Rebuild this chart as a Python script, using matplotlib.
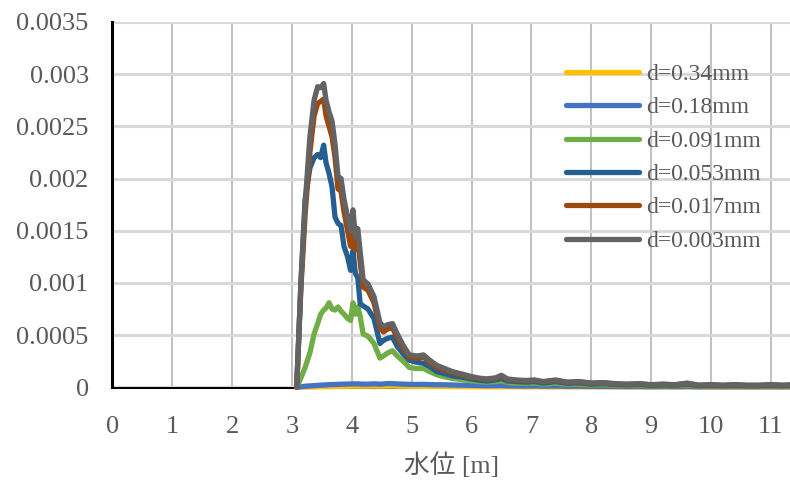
import numpy as np
import matplotlib
matplotlib.use("Agg")
import matplotlib.pyplot as plt

# water level [m]
x = [3.08, 3.15, 3.22, 3.3, 3.37, 3.43, 3.48, 3.53, 3.57, 3.62,
     3.67, 3.72, 3.77, 3.82, 3.87, 3.93, 3.98, 4.02, 4.06, 4.1,
     4.14, 4.19, 4.27, 4.37, 4.47, 4.53, 4.6, 4.68, 4.76, 4.86,
     4.96, 5.08, 5.2, 5.3, 5.42, 5.55, 5.68, 5.82, 5.95, 6.1,
     6.25, 6.4, 6.5, 6.6, 6.75, 6.9, 7.05, 7.2, 7.4, 7.6,
     7.8, 8.0, 8.2, 8.4, 8.6, 8.8, 9.0, 9.2, 9.4, 9.6,
     9.8, 10.0, 10.2, 10.4, 10.6, 10.8, 11.0, 11.2, 11.4]

# values in units of 1e-4
d034 = [0, 0.01, 0.02, 0.03, 0.04, 0.05, 0.05, 0.06, 0.06, 0.07,
        0.07, 0.08, 0.08, 0.08, 0.09, 0.09, 0.1, 0.1, 0.1, 0.1,
        0.1, 0.1, 0.1, 0.11, 0.1, 0.1, 0.11, 0.11, 0.1, 0.1,
        0.09, 0.09, 0.09, 0.08, 0.08, 0.08, 0.07, 0.07, 0.06, 0.06,
        0.05, 0.05, 0.06, 0.05, 0.05, 0.04, 0.05, 0.04, 0.04, 0.04,
        0.04, 0.03, 0.03, 0.03, 0.03, 0.03, 0.02, 0.03, 0.02, 0.03,
        0.02, 0.02, 0.02, 0.02, 0.02, 0.02, 0.02, 0.02, 0.02]
d018 = [0, 0.05, 0.1, 0.13, 0.16, 0.18, 0.2, 0.22, 0.23, 0.25,
        0.26, 0.27, 0.28, 0.29, 0.3, 0.31, 0.32, 0.33, 0.32, 0.33,
        0.31, 0.3, 0.3, 0.33, 0.3, 0.32, 0.36, 0.35, 0.32, 0.3,
        0.28, 0.27, 0.28, 0.26, 0.24, 0.24, 0.22, 0.2, 0.19, 0.17,
        0.16, 0.16, 0.17, 0.14, 0.13, 0.12, 0.13, 0.11, 0.12, 0.1,
        0.1, 0.09, 0.09, 0.08, 0.07, 0.08, 0.06, 0.07, 0.06, 0.08,
        0.05, 0.06, 0.05, 0.06, 0.05, 0.05, 0.06, 0.05, 0.06]
d0091 = [0, 0.9, 1.9, 3.3, 5.1, 6.1, 7.0, 7.4, 7.6, 8.1,
         7.5, 7.4, 7.7, 7.3, 7.0, 6.6, 6.4, 8.1, 7.0, 7.7,
         6.8, 5.1, 4.9, 4.2, 2.8, 3.0, 3.3, 3.5, 3.0, 2.5,
         1.9, 1.8, 1.8, 1.5, 1.2, 1.0, 0.85, 0.75, 0.65, 0.55,
         0.5, 0.55, 0.6, 0.45, 0.4, 0.38, 0.4, 0.3, 0.4, 0.28,
         0.3, 0.22, 0.25, 0.2, 0.17, 0.2, 0.15, 0.17, 0.15, 0.22,
         0.12, 0.15, 0.12, 0.15, 0.12, 0.12, 0.15, 0.12, 0.15]
d0053 = [0, 10, 18, 21, 22, 22.3, 22.0, 23.2, 21.5, 20.5,
         19.2, 16.3, 15.7, 15.5, 13.5, 12.5, 11.2, 13.1, 10.9, 10.5,
         8.0, 7.8, 7.5, 6.6, 4.2, 4.5, 4.7, 4.8, 3.9, 3.2,
         2.6, 2.4, 2.3, 2.0, 1.5, 1.3, 1.1, 1.0, 0.85, 0.7,
         0.6, 0.7, 0.85, 0.6, 0.55, 0.5, 0.55, 0.4, 0.55, 0.38,
         0.42, 0.3, 0.35, 0.27, 0.23, 0.27, 0.2, 0.23, 0.2, 0.3,
         0.15, 0.2, 0.15, 0.2, 0.15, 0.15, 0.2, 0.15, 0.2]
d0017 = [0, 9.5, 16.5, 22.5, 26, 27.2, 27.4, 27.6, 26.0, 25.0,
         24.0, 22.0, 19.0, 18.8, 16.8, 15.0, 13.5, 15.5, 13.2, 14.0,
         12.0, 9.6, 9.3, 8.1, 5.7, 5.3, 5.6, 5.7, 4.7, 3.7,
         2.9, 2.8, 2.9, 2.4, 1.9, 1.65, 1.4, 1.2, 1.0, 0.85,
         0.75, 0.85, 1.05, 0.75, 0.65, 0.6, 0.65, 0.5, 0.65, 0.45,
         0.5, 0.38, 0.42, 0.32, 0.28, 0.32, 0.23, 0.28, 0.23, 0.37,
         0.18, 0.23, 0.18, 0.23, 0.18, 0.18, 0.23, 0.18, 0.23]
d0003 = [0, 10, 17.5, 24, 27.5, 28.8, 28.7, 29.1, 27.5, 26.4,
         25.5, 23.3, 20.2, 20.0, 18.0, 16.3, 15.0, 17.0, 14.4, 15.2,
         13.0, 10.3, 9.9, 8.7, 6.2, 5.8, 6.0, 6.1, 5.1, 4.0,
         3.1, 3.0, 3.1, 2.6, 2.1, 1.8, 1.5, 1.3, 1.1, 0.9,
         0.8, 0.9, 1.15, 0.8, 0.7, 0.65, 0.7, 0.55, 0.7, 0.5,
         0.55, 0.4, 0.45, 0.35, 0.3, 0.35, 0.25, 0.3, 0.25, 0.4,
         0.2, 0.25, 0.2, 0.25, 0.2, 0.2, 0.25, 0.2, 0.25]

labels = ["d=0.34mm", "d=0.18mm", "d=0.091mm", "d=0.053mm", "d=0.017mm", "d=0.003mm"]
colors = ["#FFC000", "#4472C4", "#70AD47", "#255E91", "#9E480E", "#636363"]
series = [d034, d018, d0091, d0053, d0017, d0003]

txt = "#595959"
plt.rcParams["font.family"] = ["Liberation Serif", "Noto Sans CJK JP"]

fig = plt.figure(figsize=(7.9, 4.82), dpi=100)
ax = fig.add_axes([0.1422, 0.1965, 0.8578, 0.7579])

for vals, c, lbl in zip(series, colors, labels):
    ax.plot(x, np.array(vals) * 1e-4, color=c, lw=3.8, label=lbl,
            solid_capstyle="round", solid_joinstyle="round", clip_on=False)

ax.set_xlim(0, 11.32)
ax.set_ylim(0, 0.0035)
ax.set_xticks(range(0, 12))
ax.set_yticks([0, 0.0005, 0.001, 0.0015, 0.002, 0.0025, 0.003, 0.0035])
ax.set_yticklabels(["0", "0.0005", "0.001", "0.0015", "0.002", "0.0025", "0.003", "0.0035"])

ax.grid(axis="y", color="#d9d9d9", lw=2.2)
ax.grid(axis="x", color="#c0c0c0", lw=1.4)
ax.set_axisbelow(True)

for s in ["top", "right"]:
    ax.spines[s].set_visible(False)
ax.spines["left"].set_color("black")
ax.spines["left"].set_linewidth(2.2)
ax.spines["bottom"].set_color("black")
ax.spines["bottom"].set_linewidth(2.2)
ax.spines["bottom"].set_zorder(0.5)

ax.tick_params(axis="both", length=0, labelsize=19, labelcolor=txt)
ax.tick_params(axis="y", pad=17)
ax.tick_params(axis="x", pad=21)

ax.set_xlabel("水位 [m]", fontsize=18.5, color=txt, labelpad=10)

ax.legend(loc="upper left", bbox_to_anchor=(0.655, 0.912), frameon=False,
          fontsize=17, handlelength=3.1, handletextpad=0.3, labelspacing=0.5,
          labelcolor=txt, borderaxespad=0)

fig.savefig("out.png", dpi=100)
